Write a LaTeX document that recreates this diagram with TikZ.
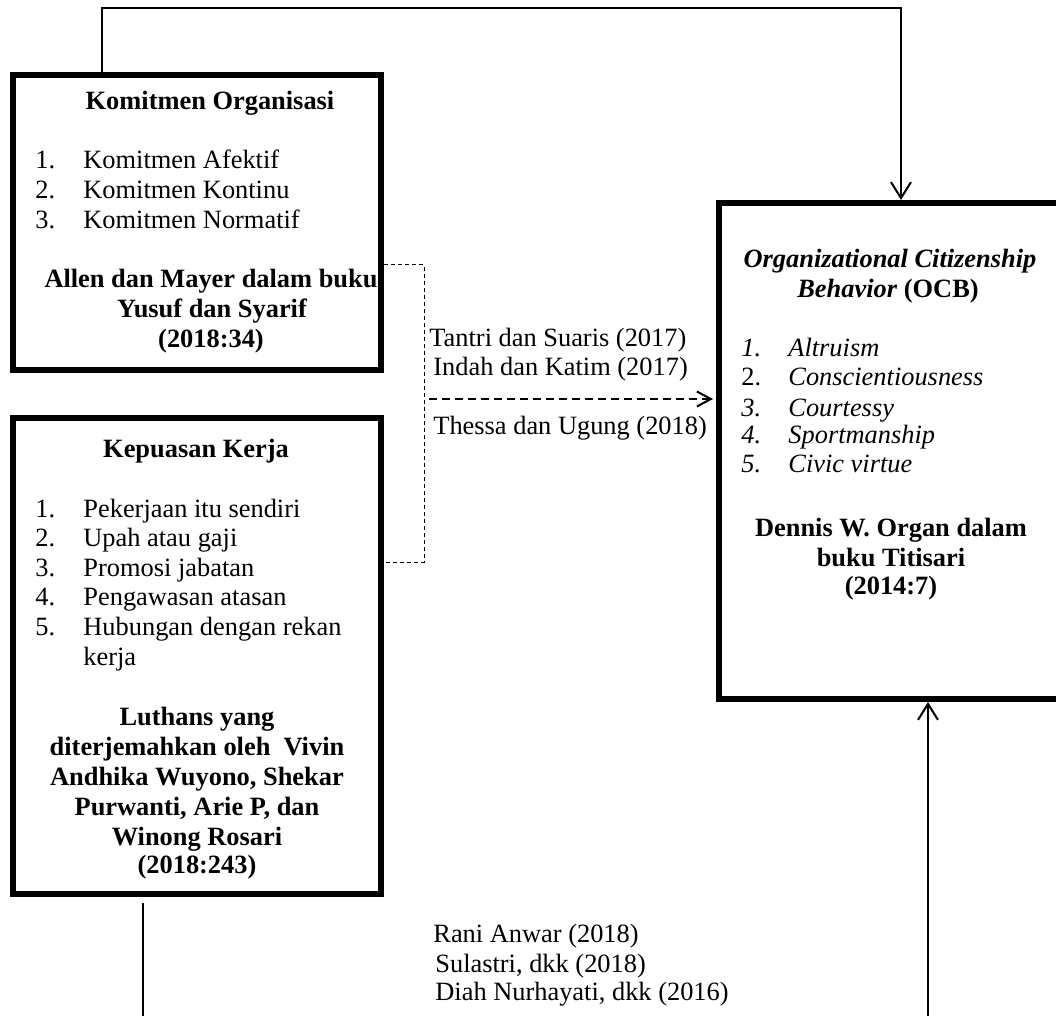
\documentclass[tikz,border=0pt]{standalone}
\usepackage{fontspec}
\setmainfont{Liberation Serif}
\usetikzlibrary{arrows.meta}
\tikzset{
  every node/.style={inner sep=0pt, font=\fontsize{13.2pt}{14.75pt}\selectfont},
  boxnode/.style={draw, line width=3pt, rectangle},
  txt/.style={anchor=base west},
  ctr/.style={anchor=base, font=\fontsize{13.2pt}{14.75pt}\selectfont\bfseries},
  conn/.style={line width=1pt},
  vtip/.style={-{Straight Barb[length=8pt,width=10pt]}},
  dasharrow/.style={line width=1pt, dash pattern=on 4pt off 2.5pt, -{Straight Barb[length=7pt,width=7.5pt]}},
  thindash/.style={line width=0.5pt, dash pattern=on 2pt off 1.5pt}
}
\begin{document}
\begin{tikzpicture}[x=0.5pt,y=-0.5pt]
\useasboundingbox (0,0) rectangle (1056,1016);
% boxes
\node[boxnode, minimum width=184pt, minimum height=147.5pt] (b1) at (197,222.5) {};
\node[boxnode, minimum width=184pt, minimum height=238pt] (b2) at (197,656) {};
\node[boxnode, minimum width=171.5pt, minimum height=248pt] (b3) at (890.5,451) {};

% box 1 text
\node[ctr] (b1t) at (210,110) {Komitmen Organisasi};
\node[txt] (b1n1) at (35,169) {1.};
\node[txt] (b1i1) at (83,169) {Komitmen Afektif};
\node[txt] (b1n2) at (35,199) {2.};
\node[txt] (b1i2) at (83,199) {Komitmen Kontinu};
\node[txt] (b1n3) at (35,229) {3.};
\node[txt] (b1i3) at (83,229) {Komitmen Normatif};
\node[ctr] (b1s1) at (211,288) {Allen dan Mayer dalam buku};
\node[ctr] (b1s2) at (212,318) {Yusuf dan Syarif};
\node[ctr] (b1s3) at (211,348) {(2018:34)};

% box 2 text
\node[ctr] (b2t) at (196,458) {Kepuasan Kerja};
\node[txt] (b2n1) at (35,517) {1.};
\node[txt] (b2i1) at (83,517) {Pekerjaan itu sendiri};
\node[txt] (b2n2) at (35,546) {2.};
\node[txt] (b2i2) at (83,546) {Upah atau gaji};
\node[txt] (b2n3) at (35,576) {3.};
\node[txt] (b2i3) at (83,576) {Promosi jabatan};
\node[txt] (b2n4) at (35,605) {4.};
\node[txt] (b2i4) at (83,605) {Pengawasan atasan};
\node[txt] (b2n5) at (35,635) {5.};
\node[txt] (b2i5) at (83,635) {Hubungan dengan rekan};
\node[txt] (b2i5b) at (83,665) {kerja};
\node[ctr] (b2s1) at (197,725) {Luthans yang};
\node[ctr] (b2s2) at (197,755) {diterjemahkan oleh\ \ Vivin};
\node[ctr] (b2s3) at (197,785) {Andhika Wuyono, Shekar};
\node[ctr] (b2s4) at (197,815) {Purwanti, Arie P, dan};
\node[ctr] (b2s5) at (197,845) {Winong Rosari};
\node[ctr] (b2s6) at (197,873) {(2018:243)};

% box 3 text
\node[ctr] (b3t1) at (890,268) {\itshape Organizational Citizenship};
\node[ctr] (b3t2) at (888,298) {\textit{Behavior} (OCB)};
\node[txt] (b3n1) at (741,357) {\itshape 1.};
\node[txt] (b3i1) at (788,357) {\itshape Altruism};
\node[txt] (b3n2) at (741,386) {2.};
\node[txt] (b3i2) at (788,386) {\itshape Conscientiousness};
\node[txt] (b3n3) at (741,416) {\itshape 3.};
\node[txt] (b3i3) at (788,416) {\itshape Courtessy};
\node[txt] (b3n4) at (741,444) {\itshape 4.};
\node[txt] (b3i4) at (788,444) {\itshape Sportmanship};
\node[txt] (b3n5) at (741,473) {\itshape 5.};
\node[txt] (b3i5) at (788,473) {\itshape Civic virtue};
\node[ctr] (b3s1) at (891,537) {Dennis W. Organ dalam};
\node[ctr] (b3s2) at (891,567) {buku Titisari};
\node[ctr] (b3s3) at (891,595) {(2014:7)};

% middle labels
\node[txt] (l1) at (429,347) {Tantri dan Suaris (2017)};
\node[txt] (l2) at (433,376) {Indah dan Katim (2017)};
\node[txt] (l3) at (433,435) {Thessa dan Ugung (2018)};
% bottom labels
\node[txt] (l4) at (433,942) {Rani Anwar (2018)};
\node[txt] (l5) at (435,972) {Sulastri, dkk (2018)};
\node[txt] (l6) at (435,1000) {Diah Nurhayati, dkk (2016)};

% top connector
\coordinate (k1) at (102,8);
\coordinate (k2) at (901,8);
\draw[conn, vtip] (b1.north -| k1) -- (k1) -- (k2) -- (b3.north -| k2);

% dashed bracket
\coordinate (d1) at (424,265);
\coordinate (d2) at (424,562);
\draw[thindash] (b1.east |- d1) -- (d1) -- (d2) -- (b2.east |- d2);

% dashed arrow
\coordinate (a0) at (429,399);
\draw[dasharrow, shorten >=1.5pt] (a0) -- (b3.west |- a0);

% bottom connectors
\coordinate (m1) at (143,1020);
\coordinate (m2) at (928,1020);
\draw[conn] ([yshift=-3pt]b2.south -| m1) -- (m1);
\draw[conn, vtip] (m2) -- (b3.south -| m2);
\end{tikzpicture}
\end{document}
